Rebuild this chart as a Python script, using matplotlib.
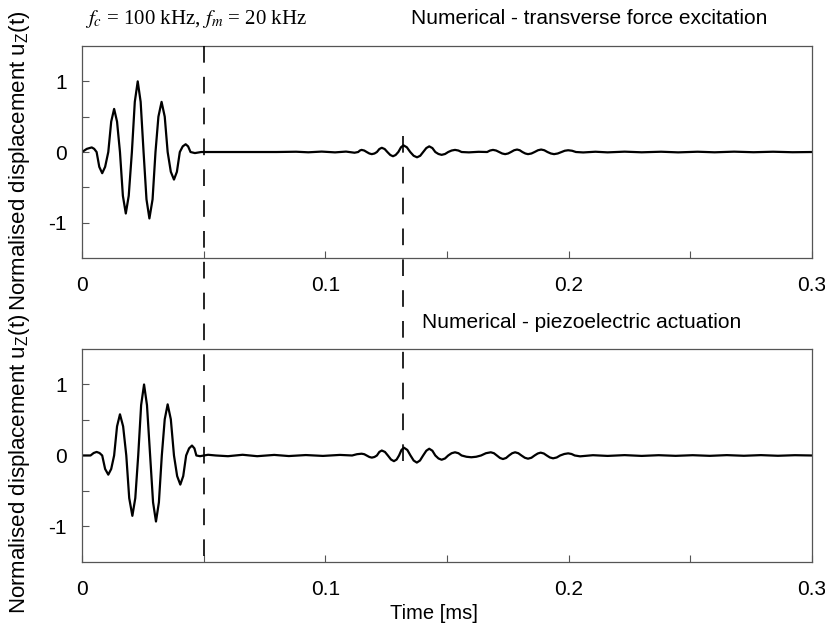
import matplotlib
matplotlib.use('Agg')
import matplotlib.pyplot as plt

# time axis [ms] and normalised displacement
# top panel: transverse force excitation
t_top = [0.0000, 0.0020, 0.0040, 0.0050, 0.0060, 0.0071, 0.0083, 0.0095, 0.0108,
         0.0120, 0.0132, 0.0144, 0.0156, 0.0168, 0.0180, 0.0192, 0.0205,
         0.0217, 0.0229, 0.0241, 0.0253, 0.0265, 0.0277, 0.0290, 0.0302,
         0.0314, 0.0327, 0.0340, 0.0352, 0.0365, 0.0378, 0.0390, 0.0402,
         0.0414, 0.0426, 0.0436, 0.0446, 0.0464, 0.0490,
         0.0800, 0.0880, 0.0930, 0.0985, 0.1040, 0.1085, 0.1120, 0.1135,
         0.1142, 0.1149, 0.1160, 0.1170, 0.1181, 0.1191, 0.1202, 0.1212,
         0.1222, 0.1232, 0.1244, 0.1255, 0.1267, 0.1278, 0.1289, 0.1300,
         0.1311, 0.1321, 0.1335, 0.1349, 0.1363, 0.1377, 0.1390, 0.1402,
         0.1415, 0.1427, 0.1440, 0.1452, 0.1465, 0.1478, 0.1492, 0.1505,
         0.1519, 0.1533, 0.1547, 0.1560, 0.1590, 0.1630, 0.1665,
         0.1677, 0.1689, 0.1702, 0.1714, 0.1727, 0.1739, 0.1751, 0.1763,
         0.1776, 0.1788, 0.1799, 0.1810, 0.1822, 0.1833, 0.1847, 0.1860,
         0.1874, 0.1887, 0.1900, 0.1913, 0.1927, 0.1940, 0.1955, 0.1970,
         0.1984, 0.1998, 0.2014, 0.2030, 0.2060, 0.2110, 0.2160, 0.2230,
         0.2300, 0.2380, 0.2450, 0.2530, 0.2600, 0.2680, 0.2760, 0.2840,
         0.2920, 0.3000]
u_top = [0.000, 0.045, 0.065, 0.045, 0.000, -0.210, -0.300, -0.210, 0.000,
         0.430, 0.610, 0.430, 0.000, -0.620, -0.870, -0.620, 0.000,
         0.710, 1.000, 0.710, 0.000, -0.670, -0.940, -0.670, 0.000,
         0.500, 0.710, 0.500, 0.000, -0.280, -0.390, -0.280, 0.000,
         0.080, 0.110, 0.080, 0.000, -0.015, 0.000,
         0.000, 0.004, -0.004, 0.006, -0.005, 0.006, -0.010, 0.000,
         0.021, 0.030, 0.021, 0.000, -0.021, -0.030, -0.021, 0.000,
         0.042, 0.060, 0.042, 0.000, -0.042, -0.060, -0.042, 0.000,
         0.067, 0.095, 0.067, 0.000, -0.053, -0.075, -0.053, 0.000,
         0.056, 0.080, 0.056, 0.000, -0.028, -0.040, -0.028, 0.000,
         0.021, 0.030, 0.021, 0.000, -0.005, 0.003, 0.000,
         0.021, 0.030, 0.021, 0.000, -0.021, -0.030, -0.021, 0.000,
         0.025, 0.035, 0.025, 0.000, -0.021, -0.030, -0.021, 0.000,
         0.025, 0.035, 0.025, 0.000, -0.021, -0.030, -0.021, 0.000,
         0.018, 0.025, 0.018, 0.000, -0.006, 0.004, -0.005, 0.005,
         -0.004, 0.004, -0.005, 0.004, -0.004, 0.005, -0.003, 0.004,
         -0.003, 0.000]

# bottom panel: piezoelectric actuation
t_bot = [0.0000, 0.0035, 0.0048, 0.0060, 0.0072, 0.0083, 0.0095, 0.0108, 0.0120,
         0.0132, 0.0144, 0.0156, 0.0169, 0.0182, 0.0194, 0.0207, 0.0219,
         0.0231, 0.0243, 0.0255, 0.0267, 0.0280, 0.0292, 0.0304, 0.0316,
         0.0328, 0.0340, 0.0352, 0.0365, 0.0378, 0.0391, 0.0404, 0.0416,
         0.0428, 0.0440, 0.0452, 0.0462, 0.0470, 0.0485, 0.0518, 0.0550,
         0.0600, 0.0660, 0.0720, 0.0790, 0.0850, 0.0920, 0.0990, 0.1060,
         0.1110, 0.1130, 0.1149, 0.1160, 0.1170, 0.1181, 0.1191, 0.1202,
         0.1212, 0.1222, 0.1232, 0.1245, 0.1257, 0.1270, 0.1282, 0.1293,
         0.1303, 0.1313, 0.1323, 0.1337, 0.1350, 0.1363, 0.1376, 0.1389,
         0.1402, 0.1415, 0.1427, 0.1440, 0.1452, 0.1465, 0.1478, 0.1492,
         0.1505, 0.1519, 0.1533, 0.1547, 0.1560, 0.1580, 0.1600, 0.1620,
         0.1640, 0.1660, 0.1680, 0.1693, 0.1705, 0.1718, 0.1730, 0.1743,
         0.1755, 0.1768, 0.1780, 0.1793, 0.1806, 0.1820, 0.1833, 0.1847,
         0.1860, 0.1873, 0.1885, 0.1898, 0.1910, 0.1923, 0.1936, 0.1951,
         0.1965, 0.1982, 0.1998, 0.2012, 0.2025, 0.2047, 0.2100, 0.2160,
         0.2230, 0.2300, 0.2370, 0.2440, 0.2510, 0.2580, 0.2650, 0.2720,
         0.2790, 0.2860, 0.2930, 0.3000]
u_bot = [0.000, 0.000, 0.035, 0.050, 0.035, 0.000, -0.190, -0.270, -0.190,
         0.000, 0.410, 0.580, 0.410, 0.000, -0.600, -0.850, -0.600,
         0.000, 0.710, 1.000, 0.710, 0.000, -0.660, -0.930, -0.660,
         0.000, 0.510, 0.720, 0.510, 0.000, -0.290, -0.410, -0.290,
         0.000, 0.100, 0.140, 0.100, 0.000, -0.010, 0.010, 0.000,
         -0.010, 0.010, -0.010, 0.008, -0.008, 0.006, -0.006, 0.008,
         0.000, 0.018, 0.025, 0.018, 0.000, -0.021, -0.030, -0.021,
         0.000, 0.050, 0.070, 0.050, 0.000, -0.057, -0.080, -0.057,
         0.000, 0.078, 0.110, 0.078, 0.000, -0.071, -0.100, -0.071,
         0.000, 0.067, 0.095, 0.067, 0.000, -0.042, -0.060, -0.042,
         0.000, 0.032, 0.045, 0.032, 0.000, -0.018, -0.025, -0.018,
         0.000, 0.032, 0.045, 0.032, 0.000, -0.035, -0.050, -0.035,
         0.000, 0.032, 0.045, 0.032, 0.000, -0.032, -0.045, -0.032,
         0.000, 0.028, 0.040, 0.028, 0.000, -0.028, -0.040, -0.028,
         0.000, 0.021, 0.030, 0.021, 0.000, -0.012, 0.004, -0.006,
         0.005, -0.006, 0.004, -0.005, 0.004, -0.005, 0.005, -0.004,
         0.005, -0.004, 0.004, 0.000]

# dashed time markers [ms]
marker_times = [0.05, 0.132]

x_ticks = [0, 0.1, 0.2, 0.3]
x_tick_labels = ['0', '0.1', '0.2', '0.3']
x_minor = [0.05, 0.15, 0.25]
y_ticks = [-1, 0, 1]
y_tick_labels = ['-1', '0', '1']
y_minor = [-0.5, 0.5]

titles = ['Numerical - transverse force excitation', 'Numerical - piezoelectric actuation']
ylab = r'Normalised displacement $\mathregular{u_Z}$(t)'

plt.rcParams['font.family'] = ['Liberation Sans', 'DejaVu Sans']
plt.rcParams['mathtext.fontset'] = 'stix'

fig = plt.figure(figsize=(8.25, 6.27), dpi=100)
ax1 = fig.add_axes([0.0994, 0.5885, 0.8848, 0.3381])
ax2 = fig.add_axes([0.0994, 0.1037, 0.8848, 0.3397])

for ax, t, u in [(ax1, t_top, u_top), (ax2, t_bot, u_bot)]:
    ax.plot(t, u, color='black', lw=1.6, solid_joinstyle='round')
    ax.set_xlim(0, 0.3)
    ax.set_ylim(-1.5, 1.5)
    ax.set_xticks(x_ticks)
    ax.set_xticklabels(x_tick_labels, fontsize=15)
    ax.set_xticks(x_minor, minor=True)
    ax.set_yticks(y_ticks)
    ax.set_yticklabels(y_tick_labels, fontsize=15)
    ax.set_yticks(y_minor, minor=True)
    ax.tick_params(which='both', direction='in', length=5, width=0.8, color='#555555',
                   top=False, right=False)
    ax.tick_params(axis='x', pad=13)
    ax.tick_params(axis='y', pad=11)
    for s in ax.spines.values():
        s.set_color('#555555')
        s.set_linewidth(0.9)
    ax.set_ylabel(ylab, fontsize=16)
    ax.yaxis.set_label_coords(-0.068, 0.46)

ax2.set_xlabel('Time [ms]', fontsize=14.5)
ax2.xaxis.set_label_coords(0.482, -0.195)
ax2.xaxis.label.set_va('top')

fig.text(589 / 825, 1 - 18 / 627, titles[0], ha='center', va='center', fontsize=15)
fig.text(582 / 825, 1 - 323 / 627, titles[1], ha='center', va='center', fontsize=15)
fig.text(85 / 825, 1 - 19 / 627, r'$f_c$ = 100 kHz, $f_m$ = 20 kHz',
         family='Liberation Serif', fontsize=15, ha='left', va='center')

# overlay spanning both panels for the dashed markers
ov = fig.add_axes([0.0994, 0.1037, 0.8848, 0.9266 - 0.1037])
ov.set_xlim(0, 0.3)
ov.set_ylim(0, 1)
ov.axis('off')
ov.patch.set_alpha(0)
ov.plot([marker_times[0], marker_times[0]], [1, 0], color='black', lw=1.2, ls=(0, (10, 8.5)))
ov.plot([marker_times[1], marker_times[1]], [0.826, 0.169], color='black', lw=1.2, ls=(0, (10, 8.5)))

fig.savefig('out.png', dpi=100)
